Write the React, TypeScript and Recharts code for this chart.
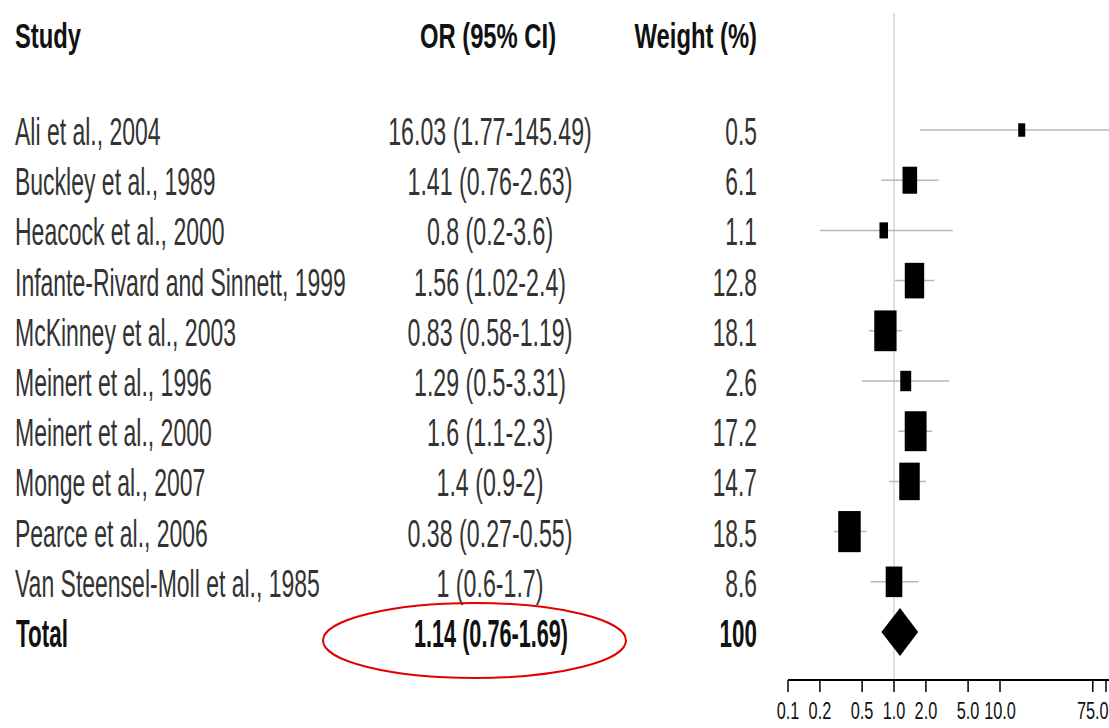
import React from 'react'
import { ScatterChart, Scatter, XAxis, YAxis, ReferenceLine } from 'recharts'

const studies = [
  'Ali et al., 2004',
  'Buckley et al., 1989',
  'Heacock et al., 2000',
  'Infante-Rivard and Sinnett, 1999',
  'McKinney et al., 2003',
  'Meinert et al., 1996',
  'Meinert et al., 2000',
  'Monge et al., 2007',
  'Pearce et al., 2006',
  'Van Steensel-Moll et al., 1985',
]
const orValues = [16.03, 1.41, 0.8, 1.56, 0.83, 1.29, 1.6, 1.4, 0.38, 1]
const ciLow = [1.77, 0.76, 0.2, 1.02, 0.58, 0.5, 1.1, 0.9, 0.27, 0.6]
const ciHigh = [145.49, 2.63, 3.6, 2.4, 1.19, 3.31, 2.3, 2, 0.55, 1.7]
const weights = [0.5, 6.1, 1.1, 12.8, 18.1, 2.6, 17.2, 14.7, 18.5, 8.6]
const orLabels = [
  '16.03 (1.77-145.49)',
  '1.41 (0.76-2.63)',
  '0.8 (0.2-3.6)',
  '1.56 (1.02-2.4)',
  '0.83 (0.58-1.19)',
  '1.29 (0.5-3.31)',
  '1.6 (1.1-2.3)',
  '1.4 (0.9-2)',
  '0.38 (0.27-0.55)',
  '1 (0.6-1.7)',
]

const totalOr = 1.14
const totalLow = 0.76
const totalHigh = 1.69
const totalLabel = '1.14 (0.76-1.69)'
const totalWeight = '100'

const axisTicks = [0.1, 0.2, 0.5, 1, 2, 5, 10, 75, 100]
const axisLabels = ['0.1', '0.2', '0.5', '1.0', '2.0', '5.0', '10.0', '75.0', '']

const HEADER_ROW = -1.89
const TOTAL_ROW = studies.length

const rows = studies.map((s, i) => ({ row: i, or: orValues[i], weight: weights[i] }))
const diamond = [
  { row: TOTAL_ROW, or: totalLow },
  { row: TOTAL_ROW, or: totalOr },
  { row: TOTAL_ROW, or: totalHigh },
]

const font = "'Liberation Sans', Arial, sans-serif"

const Txt = ({ x, y, sx, size, bold, anchor, fill, children }: any) => (
  <text
    transform={`translate(${x},${y}) scale(${sx},1)`}
    fontFamily={font}
    fontSize={size}
    fontWeight={bold ? 700 : 400}
    textAnchor={anchor}
    fill={fill}
  >
    {children}
  </text>
)

const RowTick = (props: any) => {
  const { y, payload } = props
  const v = payload.value
  if (v === HEADER_ROW) {
    const by = y + 13
    return (
      <g>
        <Txt x={15} y={by} sx={0.68} size={35} bold anchor="start" fill="#111">Study</Txt>
        <Txt x={488} y={by} sx={0.68} size={35} bold anchor="middle" fill="#111">OR (95% CI)</Txt>
        <Txt x={757} y={by} sx={0.68} size={35} bold anchor="end" fill="#111">Weight (%)</Txt>
      </g>
    )
  }
  const by = y + 15
  if (v === TOTAL_ROW) {
    return (
      <g>
        <Txt x={16} y={by} sx={0.59} size={38} bold anchor="start" fill="#111">Total</Txt>
        <Txt x={491} y={by} sx={0.57} size={38} bold anchor="middle" fill="#111">{totalLabel}</Txt>
        <Txt x={757} y={by} sx={0.59} size={38} bold anchor="end" fill="#111">{totalWeight}</Txt>
        <ellipse cx={474.5} cy={y + 8.5} rx={151.5} ry={37.5} fill="none" stroke="#e00000" strokeWidth={2} />
      </g>
    )
  }
  return (
    <g>
      <Txt x={15} y={by} sx={0.605} size={38} anchor="start" fill="#333">{studies[v]}</Txt>
      <Txt x={490} y={by} sx={0.61} size={38} anchor="middle" fill="#333">{orLabels[v]}</Txt>
      <Txt x={757} y={by} sx={0.6} size={38} anchor="end" fill="#333">{weights[v]}</Txt>
    </g>
  )
}

const AxisTick = (props: any) => {
  const { x, y, payload } = props
  const label = axisLabels[axisTicks.indexOf(payload.value)] ?? ''
  return <Txt x={x} y={y + 25} sx={0.68} size={24} anchor="middle" fill="#111">{label}</Txt>
}

const StudyBox = (props: any) => {
  const { cx, cy, payload } = props
  const s = Math.sqrt(payload.weight)
  const w = 4 + 4.3 * s
  const h = 8 + 7.7 * s
  return <rect x={cx - w / 2} y={cy - h / 2} width={w} height={h} fill="#000" />
}

const DiamondLine = (props: any) => {
  const pts = props.points || []
  if (pts.length < 3) return <g />
  const [l, c, r] = pts
  const hh = 24
  const d = `M${l.x},${c.y} L${c.x},${c.y - hh} L${r.x},${c.y} L${c.x},${c.y + hh} Z`
  return <path d={d} fill="#000" stroke="none" />
}

export default function App() {
  return (
    <div style={{ position: 'absolute', left: 0, top: 0, width: 1109, height: 728, background: '#fff' }}>
      <ScatterChart width={1109} height={728} margin={{ top: 13, right: 0, bottom: 0, left: 0 }}>
        <XAxis
          type="number"
          dataKey="or"
          scale="log"
          domain={[0.1, 106.7]}
          allowDataOverflow
          ticks={axisTicks}
          interval={0}
          height={48}
          tickSize={12}
          axisLine={{ stroke: '#000', strokeWidth: 2 }}
          tickLine={{ stroke: '#000', strokeWidth: 1.5 }}
          tick={<AxisTick />}
        />
        <YAxis
          type="number"
          dataKey="row"
          domain={[-2.331, 10.956]}
          allowDataOverflow
          reversed
          width={788}
          ticks={[HEADER_ROW, ...studies.map((_, i) => i), TOTAL_ROW]}
          interval={0}
          axisLine={false}
          tickLine={false}
          tick={<RowTick />}
        />
        <ReferenceLine x={1} stroke="#c4c4c4" strokeWidth={1} />
        {studies.map((s, i) => (
          <ReferenceLine
            key={s}
            segment={[{ x: ciLow[i], y: i }, { x: ciHigh[i], y: i }]}
            stroke="#b8b8b8"
            strokeWidth={1.5}
            ifOverflow="hidden"
          />
        ))}
        <Scatter data={rows} shape={<StudyBox />} isAnimationActive={false} />
        <Scatter
          data={diamond}
          shape={() => <g />}
          line={DiamondLine}
          isAnimationActive={false}
        />
      </ScatterChart>
    </div>
  )
}
